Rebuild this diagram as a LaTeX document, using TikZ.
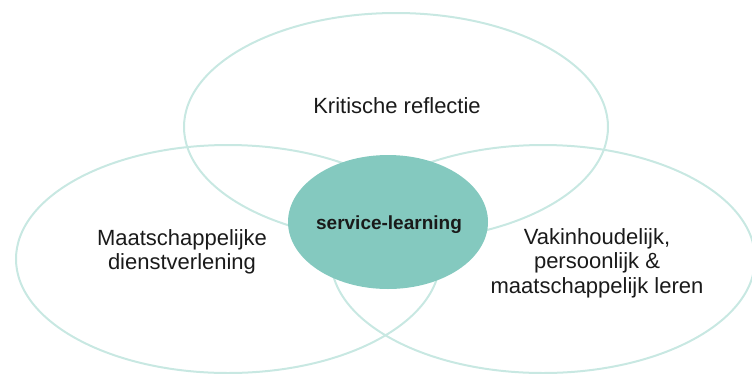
\documentclass[tikz,border=0pt]{standalone}
\usepackage{fontspec}
\setmainfont{Liberation Sans}
\usepackage{xcolor}
\usepackage{tikz}
\usetikzlibrary{shapes.geometric}
\definecolor{SLRing}{RGB}{200,232,226}
\definecolor{SLCore}{RGB}{132,201,191}
\definecolor{SLText}{RGB}{26,26,26}

\begin{document}
\begin{tikzpicture}[x=1pt, y=-1pt,
    ring/.style={draw=SLRing, line width=2pt, ellipse, inner sep=0pt, minimum width=424pt, minimum height=228pt},
    core/.style={fill=SLCore, ellipse, inner sep=0pt, minimum width=200pt, minimum height=134pt},
    label/.style={align=center, text=SLText, font=\fontsize{22}{24.5}\selectfont}]
    \useasboundingbox (0,0) rectangle (752,373);

    % the three overlapping fields
    \node (Reflectie) [ring] at (396,127) {};
    \node (Dienst) [ring] at (228,259) {};
    \node (Leren) [ring] at (543,259) {};

    % core in the middle
    \node (Service) [core] at (388,222) {};
    \node (ServiceText) [text=SLText, font=\fontsize{19}{21}\selectfont\bfseries] at (389,225) {service-learning};

    \node (ReflectieText) [label] at (397,106) {Kritische reflectie};
    \node (DienstText) [label] at (182,252) {Maatschappelijke\\dienstverlening};
    \node (LerenText) [label] at (597,263) {Vakinhoudelijk,\\persoonlijk \&\\maatschappelijk leren};
\end{tikzpicture}
\end{document}
